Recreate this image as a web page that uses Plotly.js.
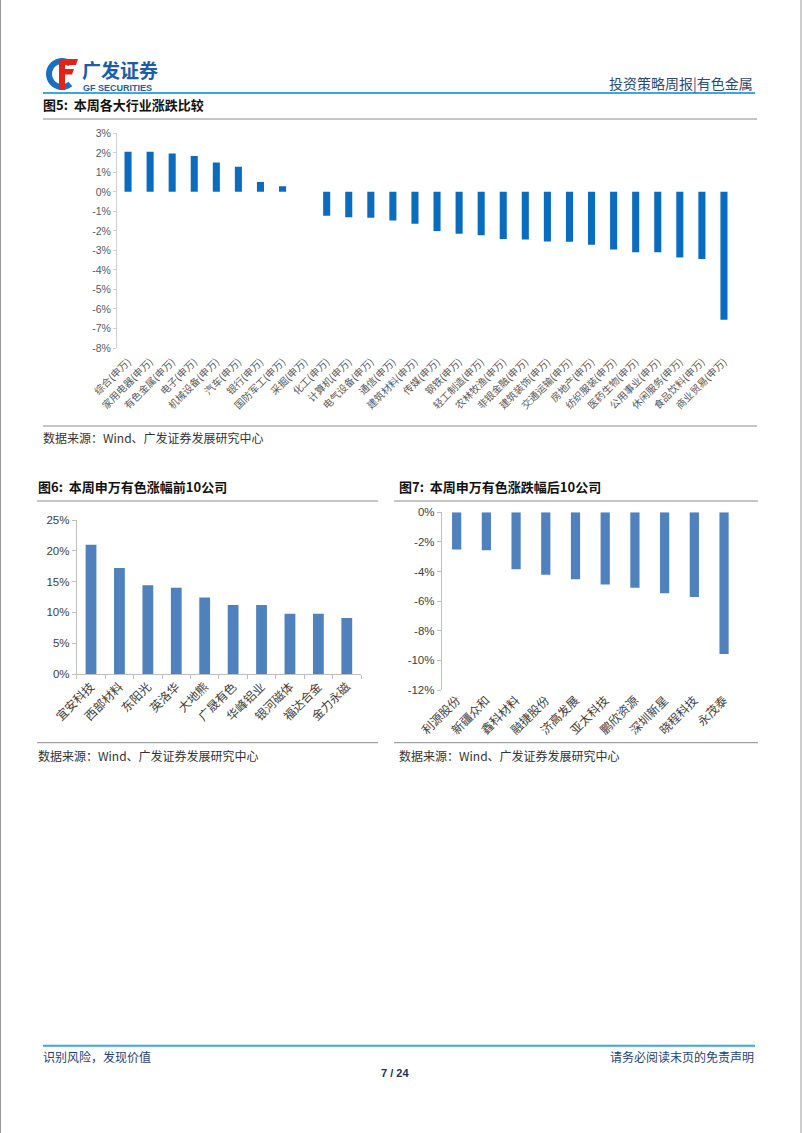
<!DOCTYPE html>
<html><head><meta charset="utf-8">
<script src="https://cdn.plot.ly/plotly-3.0.1.min.js"></script>
<style>html,body{margin:0;padding:0;background:#fff;} #chart{width:802px;height:1133px;}</style>
</head><body><div id="chart"></div>
<script>
// ---------- DATA ----------
const industries = ['综合(申万)','家用电器(申万)','有色金属(申万)','电子(申万)','机械设备(申万)','汽车(申万)','银行(申万)','国防军工(申万)','采掘(申万)','化工(申万)','计算机(申万)','电气设备(申万)','通信(申万)','建筑材料(申万)','传媒(申万)','钢铁(申万)','轻工制造(申万)','农林牧渔(申万)','非银金融(申万)','建筑装饰(申万)','交通运输(申万)','房地产(申万)','纺织服装(申万)','医药生物(申万)','公用事业(申万)','休闲服务(申万)','食品饮料(申万)','商业贸易(申万)'];
const industryChange = [2.06,2.06,1.97,1.84,1.51,1.28,0.51,0.29,0,-1.23,-1.30,-1.33,-1.47,-1.64,-2.01,-2.15,-2.22,-2.42,-2.44,-2.54,-2.56,-2.71,-2.95,-3.09,-3.09,-3.36,-3.44,-6.55];
const industryTicks = [-8,-7,-6,-5,-4,-3,-2,-1,0,1,2,3];

const topCompanies = ['宜安科技','西部材料','东阳光','英洛华','大地熊','广晟有色','华峰铝业','银河磁体','福达合金','金力永磁'];
const topChange = [21.0,17.2,14.4,14.0,12.4,11.2,11.2,9.8,9.8,9.1];
const topTicks = [0,5,10,15,20,25];

const bottomCompanies = ['利源股份','新疆众和','鑫科材料','融捷股份','济高发展','亚太科技','鹏欣资源','深圳新星','晓程科技','永茂泰'];
const bottomChange = [-2.52,-2.56,-3.85,-4.22,-4.52,-4.88,-5.10,-5.47,-5.72,-9.57];
const bottomTicks = [-12,-10,-8,-6,-4,-2,0];

// ---------- HELPERS ----------
const W = 802, H = 1133;
const px = x => x / W;
const py = y => 1 - y / H;
const pct = v => v + '%';
const boundaries = n => Array.from({length: n + 1}, (_, i) => i - 0.5);
const CJK = '"Noto Sans CJK SC", "Noto Sans", sans-serif';
const ARIAL = '"Liberation Sans", Arial, sans-serif';

const d5 = [py(348), py(133.3)], r5 = [-8, 3];
const d6 = [py(674), py(520)], r6 = [0, 25];
const d7 = [py(690), py(512.3)], r7 = [-12, 0];
const zeroPos = (d, r) => d[0] + (d[1] - d[0]) * (0 - r[0]) / (r[1] - r[0]);

const traces = [
  {type:'bar', x: industries, y: industryChange, xaxis:'x', yaxis:'y', width:0.32,
   marker:{color:'#0A6CBF'}, hoverinfo:'x+y'},
  {type:'bar', x: topCompanies, y: topChange, xaxis:'x2', yaxis:'y2', width:0.38,
   marker:{color:'#4F81BD'}, hoverinfo:'x+y'},
  {type:'bar', x: bottomCompanies, y: bottomChange, xaxis:'x3', yaxis:'y3', width:0.31,
   marker:{color:'#4F81BD'}, hoverinfo:'x+y'}
];

const axisGrey = '#D0D0D0';
const layout = {
  width: W, height: H, autosize:false,
  margin:{l:0,r:0,t:0,b:0,pad:0},
  paper_bgcolor:'#fff', plot_bgcolor:'rgba(0,0,0,0)',
  showlegend:false,
  font:{family: CJK, color:'#404040'},
  // chart 5
  xaxis:{domain:[px(117), px(735)], anchor:'y', type:'category', showline:false, ticks:'',
    showgrid:false, zeroline:false, tickangle:-45, ticklabelstandoff:5,
    tickfont:{family: CJK, size:10, color:'#595959'}},
  yaxis:{domain:d5, anchor:'x', range:r5, tickvals: industryTicks, ticktext: industryTicks.map(pct),
    showgrid:false, zeroline:false, showline:true, linecolor:axisGrey, linewidth:1,
    ticks:'outside', ticklen:3, tickcolor:axisGrey,
    tickfont:{family: ARIAL, size:10.5, color:'#595959'}},
  xaxis4:{overlaying:'x', anchor:'free', position: zeroPos(d5, r5), type:'linear',
    range:[-0.5, industries.length - 0.5], tickvals: boundaries(industries.length),
    showticklabels:false, showline:true, linecolor:axisGrey, linewidth:1,
    ticks:'outside', ticklen:3, tickcolor:axisGrey, showgrid:false, zeroline:false},
  // chart 6
  xaxis2:{domain:[px(76.8), px(361)], anchor:'y2', type:'category', showline:true,
    linecolor:'#BFBFBF', ticks:'outside', tickson:'boundaries', ticklen:4, tickcolor:'#BFBFBF',
    showgrid:false, zeroline:false, tickangle:-45,
    tickfont:{family: CJK, size:12, color:'#404040'}},
  yaxis2:{domain:d6, anchor:'x2', range:r6, tickvals: topTicks, ticktext: topTicks.map(pct),
    showgrid:false, zeroline:false, showline:true, linecolor:'#BFBFBF',
    ticks:'outside', ticklen:4, tickcolor:'#BFBFBF',
    tickfont:{family: ARIAL, size:11.5, color:'#404040'}},
  // chart 7
  xaxis3:{domain:[px(441.8), px(738.9)], anchor:'y3', type:'category', showline:false, ticks:'',
    showgrid:false, zeroline:false, tickangle:-45,
    tickfont:{family: CJK, size:12, color:'#404040'}},
  yaxis3:{domain:d7, anchor:'x3', range:r7, tickvals: bottomTicks, ticktext: bottomTicks.map(pct),
    showgrid:false, zeroline:false, showline:true, linecolor:'#BFBFBF',
    ticks:'outside', ticklen:4, tickcolor:'#BFBFBF',
    tickfont:{family: ARIAL, size:11.5, color:'#404040'}},
  xaxis5:{overlaying:'x3', anchor:'free', position: zeroPos(d7, r7), side:'top', type:'linear',
    range:[-0.5, bottomCompanies.length - 0.5], tickvals: boundaries(bottomCompanies.length),
    showticklabels:false, showline:true, linecolor:'#BFBFBF', linewidth:1,
    ticks:'outside', ticklen:3, tickcolor:'#BFBFBF', showgrid:false, zeroline:false},
  annotations:[], shapes:[]
};

function text(t, x, y, opts) {
  opts = opts || {};
  layout.annotations.push({
    text: t, xref:'paper', yref:'paper', x: px(x), y: py(y),
    xanchor: opts.xanchor || 'left', yanchor:'middle', showarrow:false, borderpad:0,
    font:{family: opts.family || CJK, size: opts.size || 12, color: opts.color || '#222',
      weight: opts.weight || 'normal'}
  });
}
function hline(x0, x1, y, color, w) {
  layout.shapes.push({type:'line', xref:'paper', yref:'paper', x0:px(x0), x1:px(x1), y0:py(y), y1:py(y),
    line:{color: color, width: w || 1}});
}
function poly(pts, color) {
  const d = pts.map((p, i) => (i ? 'L' : 'M') + px(p[0]).toFixed(5) + ',' + py(p[1]).toFixed(5)).join(' ') + ' Z';
  layout.shapes.push({type:'path', xref:'paper', yref:'paper', path:d, fillcolor:color, line:{width:0}});
}

// page edge
layout.shapes.push({type:'line', xref:'paper', yref:'paper', x0:px(0.5), x1:px(0.5), y0:0, y1:1, line:{color:'#9A9A9A', width:1}});
layout.shapes.push({type:'line', xref:'paper', yref:'paper', x0:px(801), x1:px(801), y0:0, y1:1, line:{color:'#9A9A9A', width:1}});

// logo icon: blue C + red F
(function(){
  const cx = 62, cy = 74, ro = 16, ri = 10, pts = [];
  for (let a = 50; a <= 310; a += 10) { const r = a * Math.PI / 180; pts.push([cx + ro * Math.cos(r), cy - ro * Math.sin(r)]); }
  for (let a = 310; a >= 50; a -= 10) { const r = a * Math.PI / 180; pts.push([cx + ri * Math.cos(r), cy - ri * Math.sin(r)]); }
  poly(pts, '#1A6FC0');
  poly([[59,59],[78,59],[76,65],[65,65],[65,69],[74,69],[72,74.5],[65,74.5],[65,90],[59,90]], '#E2231A');
})();
text('广发证券', 81, 69.5, {size:19, weight:'bold', color:'#1B5DAA'});
text('GF SECURITIES', 82, 88, {size:9, weight:'bold', color:'#1B5DAA', family: ARIAL});
text('投资策略周报|有色金属', 754, 83, {xanchor:'right', size:14, color:'#2F4A72'});
hline(43, 755, 93, '#3AA8DC', 2);

// chart 5 frame
text('图5:  本周各大行业涨跌比较', 42, 104, {size:13, weight:'bold', color:'#111'});
hline(43, 757, 119, '#8C8C8C', 1);
hline(43, 757, 426, '#8C8C8C', 1);
text('数据来源：Wind、广发证券发展研究中心', 42, 437.5, {size:12, color:'#333'});

// chart 6 frame
text('图6:  本周申万有色涨幅前10公司', 37, 486.7, {size:13, weight:'bold', color:'#111'});
hline(37, 378, 501, '#8C8C8C', 1);
hline(37, 378, 742.7, '#8C8C8C', 1);
text('数据来源：Wind、广发证券发展研究中心', 37, 755, {size:12, color:'#333'});

// chart 7 frame
text('图7:  本周申万有色涨跌幅后10公司', 398, 486.7, {size:13, weight:'bold', color:'#111'});
hline(394, 758, 501, '#8C8C8C', 1);
hline(394, 758, 742.7, '#8C8C8C', 1);
text('数据来源：Wind、广发证券发展研究中心', 398, 755, {size:12, color:'#333'});

// footer
hline(43, 755, 1045.7, '#3AA8DC', 2);
text('识别风险，发现价值', 42, 1056, {size:12, color:'#1F3F78'});
text('请务必阅读末页的免责声明', 755, 1056, {xanchor:'right', size:12, color:'#1F3F78'});
text('7 / 24', 395, 1073, {xanchor:'center', size:11, weight:'bold', color:'#1F2F5A', family: ARIAL});

Plotly.newPlot('chart', traces, layout, {displayModeBar:false, staticPlot:true});
</script>
</body></html>
